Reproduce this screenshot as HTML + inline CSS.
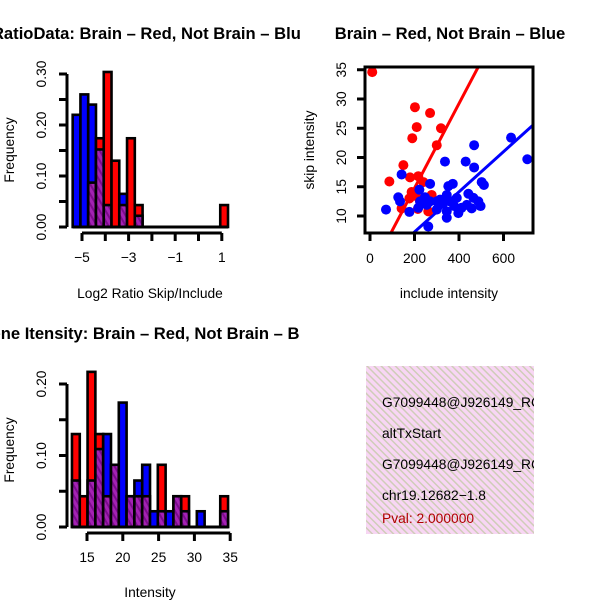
<!DOCTYPE html>
<html><head><meta charset="utf-8"><style>
body{margin:0;background:#fff}
svg{display:block;font-family:"Liberation Sans",sans-serif}
</style></head><body>
<svg width="600" height="600" viewBox="0 0 600 600" xmlns="http://www.w3.org/2000/svg">
<defs>
<pattern id="purp" patternUnits="userSpaceOnUse" width="5" height="5" patternTransform="rotate(-30)">
<rect width="5" height="5" fill="#a422b4"/><rect width="2" height="5" fill="#7c0c8c"/>
</pattern>
<pattern id="pink" patternUnits="userSpaceOnUse" width="5" height="5" patternTransform="rotate(-45)">
<rect width="5" height="5" fill="#f8d6f4"/><rect width="1.5" height="5" fill="#cfcdb8"/>
</pattern>
<clipPath id="c1"><rect x="0" y="0" width="300" height="300"/></clipPath>
<clipPath id="c3"><rect x="0" y="300" width="300" height="300"/></clipPath>
<clipPath id="cs"><rect x="365" y="67" width="168" height="166"/></clipPath>
<clipPath id="ct"><rect x="366" y="366" width="168" height="168"/></clipPath>
</defs>
<g id="p1"></g><g id="p2"></g><g id="p3"></g>
<g>
<rect x="366" y="366" width="168" height="168" fill="url(#pink)"/>
<g clip-path="url(#ct)" font-size="13.8">
<text x="382" y="407">G7099448@J926149_RC</text>
<text x="382" y="438">altTxStart</text>
<text x="382" y="469">G7099448@J926149_RC</text>
<text x="382" y="500">chr19.12682−1.8</text>
<text x="382" y="523" fill="#b00000">Pval: 2.000000</text>
</g></g>
</svg>
<script>
// Histogram 1: Log2 ratio (bins of width 1/3 starting -5.4)
const h1Start=-5.4, h1Width=1/3;
const h1Red=[0,0,0.087,0.174,0.304,0.13,0.043,0.174,0.043,0,0,0,0,0,0,0,0,0,0,0.043];
const h1Blue=[0.22,0.26,0.24,0.152,0.043,0,0.065,0,0.022,0,0,0,0,0,0,0,0,0,0,0];
const h1XTicks=[-5,-4,-3,-2,-1,0,1];
const h1XLabels=[-5,-3,-1,1];
const h1YTicks=[0,0.05,0.10,0.15,0.20,0.25,0.30];
const h1YLabels=["0.00","0.10","0.20","0.30"];
// Histogram 2: intensity
const h2Start=12.9, h2Width=1.09;
const h2Red=[0.13,0.043,0.217,0.13,0.043,0.087,0,0.043,0.043,0.043,0,0.087,0,0.043,0.043,0,0,0,0,0.043];
const h2Blue=[0.065,0,0.065,0.109,0.13,0.087,0.174,0.043,0.065,0.087,0.022,0.022,0.022,0.043,0.022,0,0.022,0,0,0.022];
const h2XTicks=[15,20,25,30,35];
const h2YTicks=[0,0.05,0.10,0.15,0.20];
const h2YLabels=["0.00","0.10","0.20"];
// Scatter
const redX=[10,202,270,210,190,319,300,150,87,180,217,240,187,207,177,225,277,262,142,215];
const redY=[34.6,28.6,27.6,25.2,23.3,25.0,22.1,18.7,15.9,16.6,16.8,15.8,14.1,13.4,13.0,12.5,13.6,10.8,11.3,11.2];
const blueX=[337,430,468,468,634,707,142,72,177,127,135,222,270,352,372,345,360,390,412,435,442,465,487,502,512,497,457,397,345,345,300,255,225,247,270,300,262,217,315,330,378];
const blueY=[19.3,19.3,22.1,18.3,23.4,19.7,17.1,11.1,10.7,13.2,12.5,14.5,15.5,15.1,15.5,13.6,12.5,13.1,11.4,11.9,13.8,13.1,12.5,15.8,15.3,11.7,11.3,10.5,9.7,10.8,11.1,11.9,12.5,13.2,12.5,12.5,8.2,11.4,12.8,12.2,11.7];
const redFit=[0.3,0.0723];
const blueFit=[0.41,0.0343];
const sXTicks=[0,200,400,600];
const sYTicks=[10,15,20,25,30,35];

const NS="http://www.w3.org/2000/svg";
const FS=13.8, TFS=16.6;
function mk(p,tag,a,txt){const e=document.createElementNS(NS,tag);for(const k in a)e.setAttribute(k,a[k]);if(txt!==undefined)e.textContent=txt;p.appendChild(e);return e;}

function hist(g,o){
  const sx=v=>o.x0+(v-o.xv0)*o.xs, sy=v=>o.y0-v*o.ys;
  const bars=mk(g,'g',{});
  
  
  for(let i=0;i<o.red.length;i++){
    const r=o.red[i],b=o.blue[i];
    const x1=sx(o.start+i*o.w),x2=sx(o.start+(i+1)*o.w);
    const hi=Math.max(r,b),lo=Math.min(r,b);
    if(hi>0){
      const el=mk(bars,'rect',{x:x1,y:sy(hi),width:x2-x1,height:sy(0)-sy(hi),fill:r>=b?'#ff0000':'#0000ff',stroke:'#000','stroke-width':2.6});
      
      
    }
    if(lo>0){
      const el=mk(bars,'rect',{x:x1,y:sy(lo),width:x2-x1,height:sy(0)-sy(lo),fill:'url(#purp)',stroke:'#000','stroke-width':2.6});
      
      
    }
  }
  mk(bars,'line',{x1:sx(o.start),x2:sx(o.start+o.red.length*o.w),y1:sy(0),y2:sy(0),stroke:'#000','stroke-width':3});
  const xa=mk(g,'g',{});
  
  
  mk(xa,'line',{x1:sx(o.xt[0]),x2:sx(o.xt[o.xt.length-1]),y1:o.axY,y2:o.axY,stroke:'#000','stroke-width':3});
  o.xt.forEach(t=>mk(xa,'line',{x1:sx(t),x2:sx(t),y1:o.axY,y2:o.axY+8,stroke:'#000','stroke-width':3}));
  o.xl.forEach(t=>mk(xa,'text',{x:sx(t),y:o.axY+29,'text-anchor':'middle','font-size':FS},String(t).replace('-','−')));
  const ya=mk(g,'g',{});
  
  
  mk(ya,'line',{x1:o.axX,x2:o.axX,y1:sy(o.yt[0]),y2:sy(o.yt[o.yt.length-1]),stroke:'#000','stroke-width':3});
  o.yt.forEach(t=>mk(ya,'line',{x1:o.axX,x2:o.axX-8,y1:sy(t),y2:sy(t),stroke:'#000','stroke-width':3}));
  o.yl.forEach(t=>{const y=sy(parseFloat(t));mk(ya,'text',{x:46,y:y,'text-anchor':'middle','font-size':FS,transform:`rotate(-90 46 ${y})`},t);});
  const yl=mk(g,'text',{x:14,y:o.yMid,'text-anchor':'middle','font-size':FS,transform:`rotate(-90 14 ${o.yMid})`},'Frequency');
  
  
  const xl=mk(g,'text',{x:150,y:o.xlY,'text-anchor':'middle','font-size':FS},o.xlab);
  
  
  const tt=mk(g,'text',{x:151,y:o.tY,'text-anchor':'middle','font-size':TFS,'font-weight':'bold','clip-path':o.clip},o.title);
  
  
}
const g1=document.getElementById('p1');


hist(g1,{red:h1Red,blue:h1Blue,start:h1Start,w:h1Width,x0:82,xv0:-5,xs:23.3,y0:227,ys:510,
 xt:h1XTicks,xl:h1XLabels,yt:h1YTicks,yl:h1YLabels,axY:233,axX:67,yMid:150,xlY:298,xlab:'Log2 Ratio Skip/Include',
 tY:39,title:'RatioData: Brain – Red, Not Brain – Blue',clip:'url(#c1)'});
const g3=document.getElementById('p3');


hist(g3,{red:h2Red,blue:h2Blue,start:h2Start,w:h2Width,x0:87,xv0:15,xs:7.16,y0:527,ys:715,
 xt:h2XTicks,xl:h2XTicks,yt:h2YTicks,yl:h2YLabels,axY:533,axX:67,yMid:450,xlY:597,xlab:'Intensity',
 tY:339,title:'Gene Itensity: Brain – Red, Not Brain – Blue',clip:'url(#c3)'});

// scatter
const g2=document.getElementById('p2');


const px=v=>370+v*0.2225, py=v=>216-(v-10)*5.85;
const pts=mk(g2,'g',{'clip-path':'url(#cs)'});
[[redFit,'#ff0000','red-fit-line'],[blueFit,'#0000ff','blue-fit-line']].forEach(([f,c,n])=>{
  const xa=-30,xb=760;
  const l=mk(pts,'line',{x1:px(xa),y1:py(f[0]+f[1]*xa),x2:px(xb),y2:py(f[0]+f[1]*xb),stroke:c,'stroke-width':3});
  
  
});
redX.forEach((x,i)=>{const c=mk(pts,'circle',{cx:px(x),cy:py(redY[i]),r:5,fill:'#ff0000'});
  
  });
blueX.forEach((x,i)=>{const c=mk(pts,'circle',{cx:px(x),cy:py(blueY[i]),r:5,fill:'#0000ff'});
  
  });
const box=mk(g2,'rect',{x:365,y:67,width:168,height:166,fill:'none',stroke:'#000','stroke-width':3});


const sxa=mk(g2,'g',{});


sXTicks.forEach(t=>{mk(sxa,'line',{x1:px(t),x2:px(t),y1:233,y2:241,stroke:'#000','stroke-width':3});
  mk(sxa,'text',{x:px(t),y:263,'text-anchor':'middle','font-size':FS},t);});
const sya=mk(g2,'g',{});


sYTicks.forEach(t=>{const y=py(t);mk(sya,'line',{x1:365,x2:357,y1:y,y2:y,stroke:'#000','stroke-width':3});
  mk(sya,'text',{x:346,y:y,'text-anchor':'middle','font-size':FS,transform:`rotate(-90 346 ${y})`},t);});
let e=mk(g2,'text',{x:314,y:150,'text-anchor':'middle','font-size':FS,transform:'rotate(-90 314 150)'},'skip intensity');


e=mk(g2,'text',{x:449,y:298,'text-anchor':'middle','font-size':FS},'include intensity');


e=mk(g2,'text',{x:450,y:39,'text-anchor':'middle','font-size':TFS,'font-weight':'bold'},'Brain – Red, Not Brain – Blue');


</script>
</body></html>
